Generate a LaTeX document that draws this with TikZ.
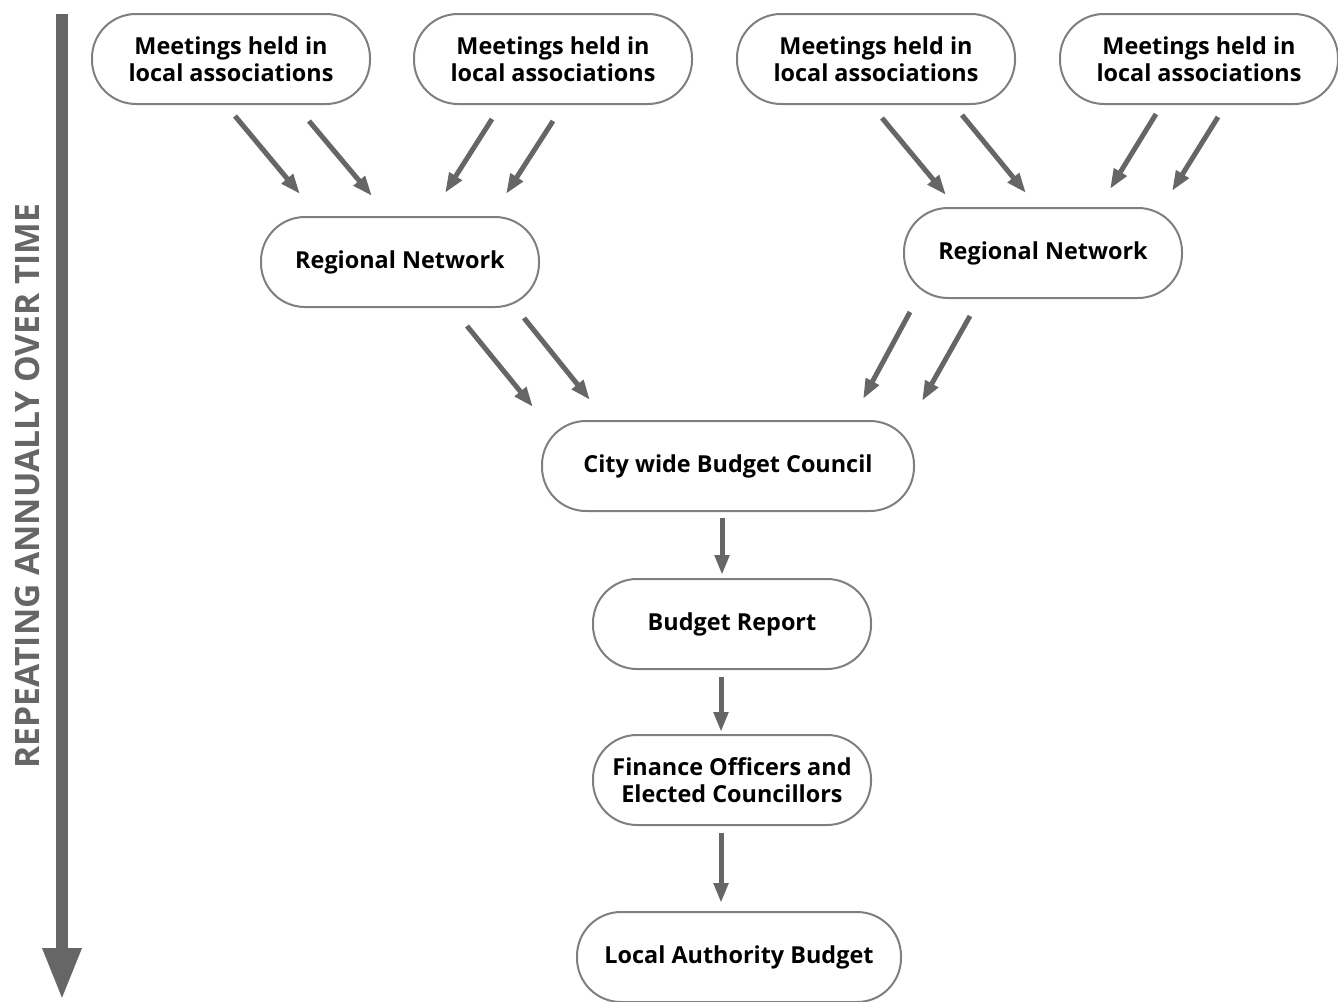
\documentclass[tikz,border=0pt]{standalone}
\usepackage{fontspec}
\setmainfont{Open Sans}
\usetikzlibrary{arrows.meta,positioning}
\definecolor{flowgray}{HTML}{666666}
\definecolor{edgegray}{HTML}{7F7F7F}
\tikzset{
  stage/.style={draw=edgegray,line width=1pt,rounded corners=22pt,minimum width=139pt,minimum height=45pt,align=center,font=\bfseries\fontsize{11.7}{13.5}\selectfont},
  flow/.style={draw=flowgray,line width=2.5pt,-{Triangle[length=10pt,width=7pt]}}
}

\begin{document}
\begin{tikzpicture}[x=0.5pt,y=-0.5pt]
\useasboundingbox (0,0) rectangle (1338,1001);
% time line on the left
\draw[flowgray,line width=6pt,-{Triangle[length=26pt,width=18pt]}] (62,14) -- (62,1000);
\node[rotate=90,text=flowgray,font=\bfseries\fontsize{16.8}{19}\selectfont] (time) at (27,486) {REPEATING ANNUALLY OVER TIME};
% stages
\node[stage] (meet1) at (231,59) {Meetings held in\\local associations};
\node[stage] (meet2) at (553,59) {Meetings held in\\local associations};
\node[stage] (meet3) at (876,59) {Meetings held in\\local associations};
\node[stage] (meet4) at (1199,59) {Meetings held in\\local associations};
\node[stage] (rn1) at (400,262) {Regional Network};
\node[stage] (rn2) at (1043,253) {Regional Network};
\node[stage,minimum width=186pt] (council) at (728,466) {City wide Budget Council};
\node[stage] (report) at (732,624) {Budget Report};
\node[stage] (finance) at (732,780) {Finance Officers and\\Elected Councillors};
\node[stage,minimum width=162pt] (local) at (739,957) {Local Authority Budget};
% flows into the regional networks
\draw[flow] ([shift={(4,11)}]meet1.south) -- ([shift={(-100,-22)}]rn1.north);
\draw[flow] ([shift={(78,16)}]meet1.south) -- ([shift={(-28,-20)}]rn1.north);
\draw[flow] ([shift={(-61,14)}]meet2.south) -- ([shift={(45,-23)}]rn1.north);
\draw[flow] ([shift={(0,16)}]meet2.south) -- ([shift={(106,-22)}]rn1.north);
\draw[flow] ([shift={(6,13)}]meet3.south) -- ([shift={(-97,-12)}]rn2.north);
\draw[flow] ([shift={(86,10)}]meet3.south) -- ([shift={(-17,-14)}]rn2.north);
\draw[flow] ([shift={(-43,9)}]meet4.south) -- ([shift={(67,-18)}]rn2.north);
\draw[flow] ([shift={(19,12)}]meet4.south) -- ([shift={(129,-16)}]rn2.north);
% flows into the council
\draw[flow] ([shift={(67,18)}]rn1.south) -- ([shift={(-195,-13)}]council.north);
\draw[flow] ([shift={(124,10)}]rn1.south) -- ([shift={(-138,-20)}]council.north);
\draw[flow] ([shift={(-133,13)}]rn2.south) -- ([shift={(135,-21)}]council.north);
\draw[flow] ([shift={(-73,17)}]rn2.south) -- ([shift={(194,-19)}]council.north);
% down the chain
\draw[flow] ([shift={(-6,6)}]council.south) -- ([shift={(-10,-3)}]report.north);
\draw[flow] ([shift={(-11,7)}]report.south) -- ([shift={(-11,-2)}]finance.north);
\draw[flow] ([shift={(-11,7)}]finance.south) -- ([shift={(-18,-8)}]local.north);
\end{tikzpicture}
\end{document}
